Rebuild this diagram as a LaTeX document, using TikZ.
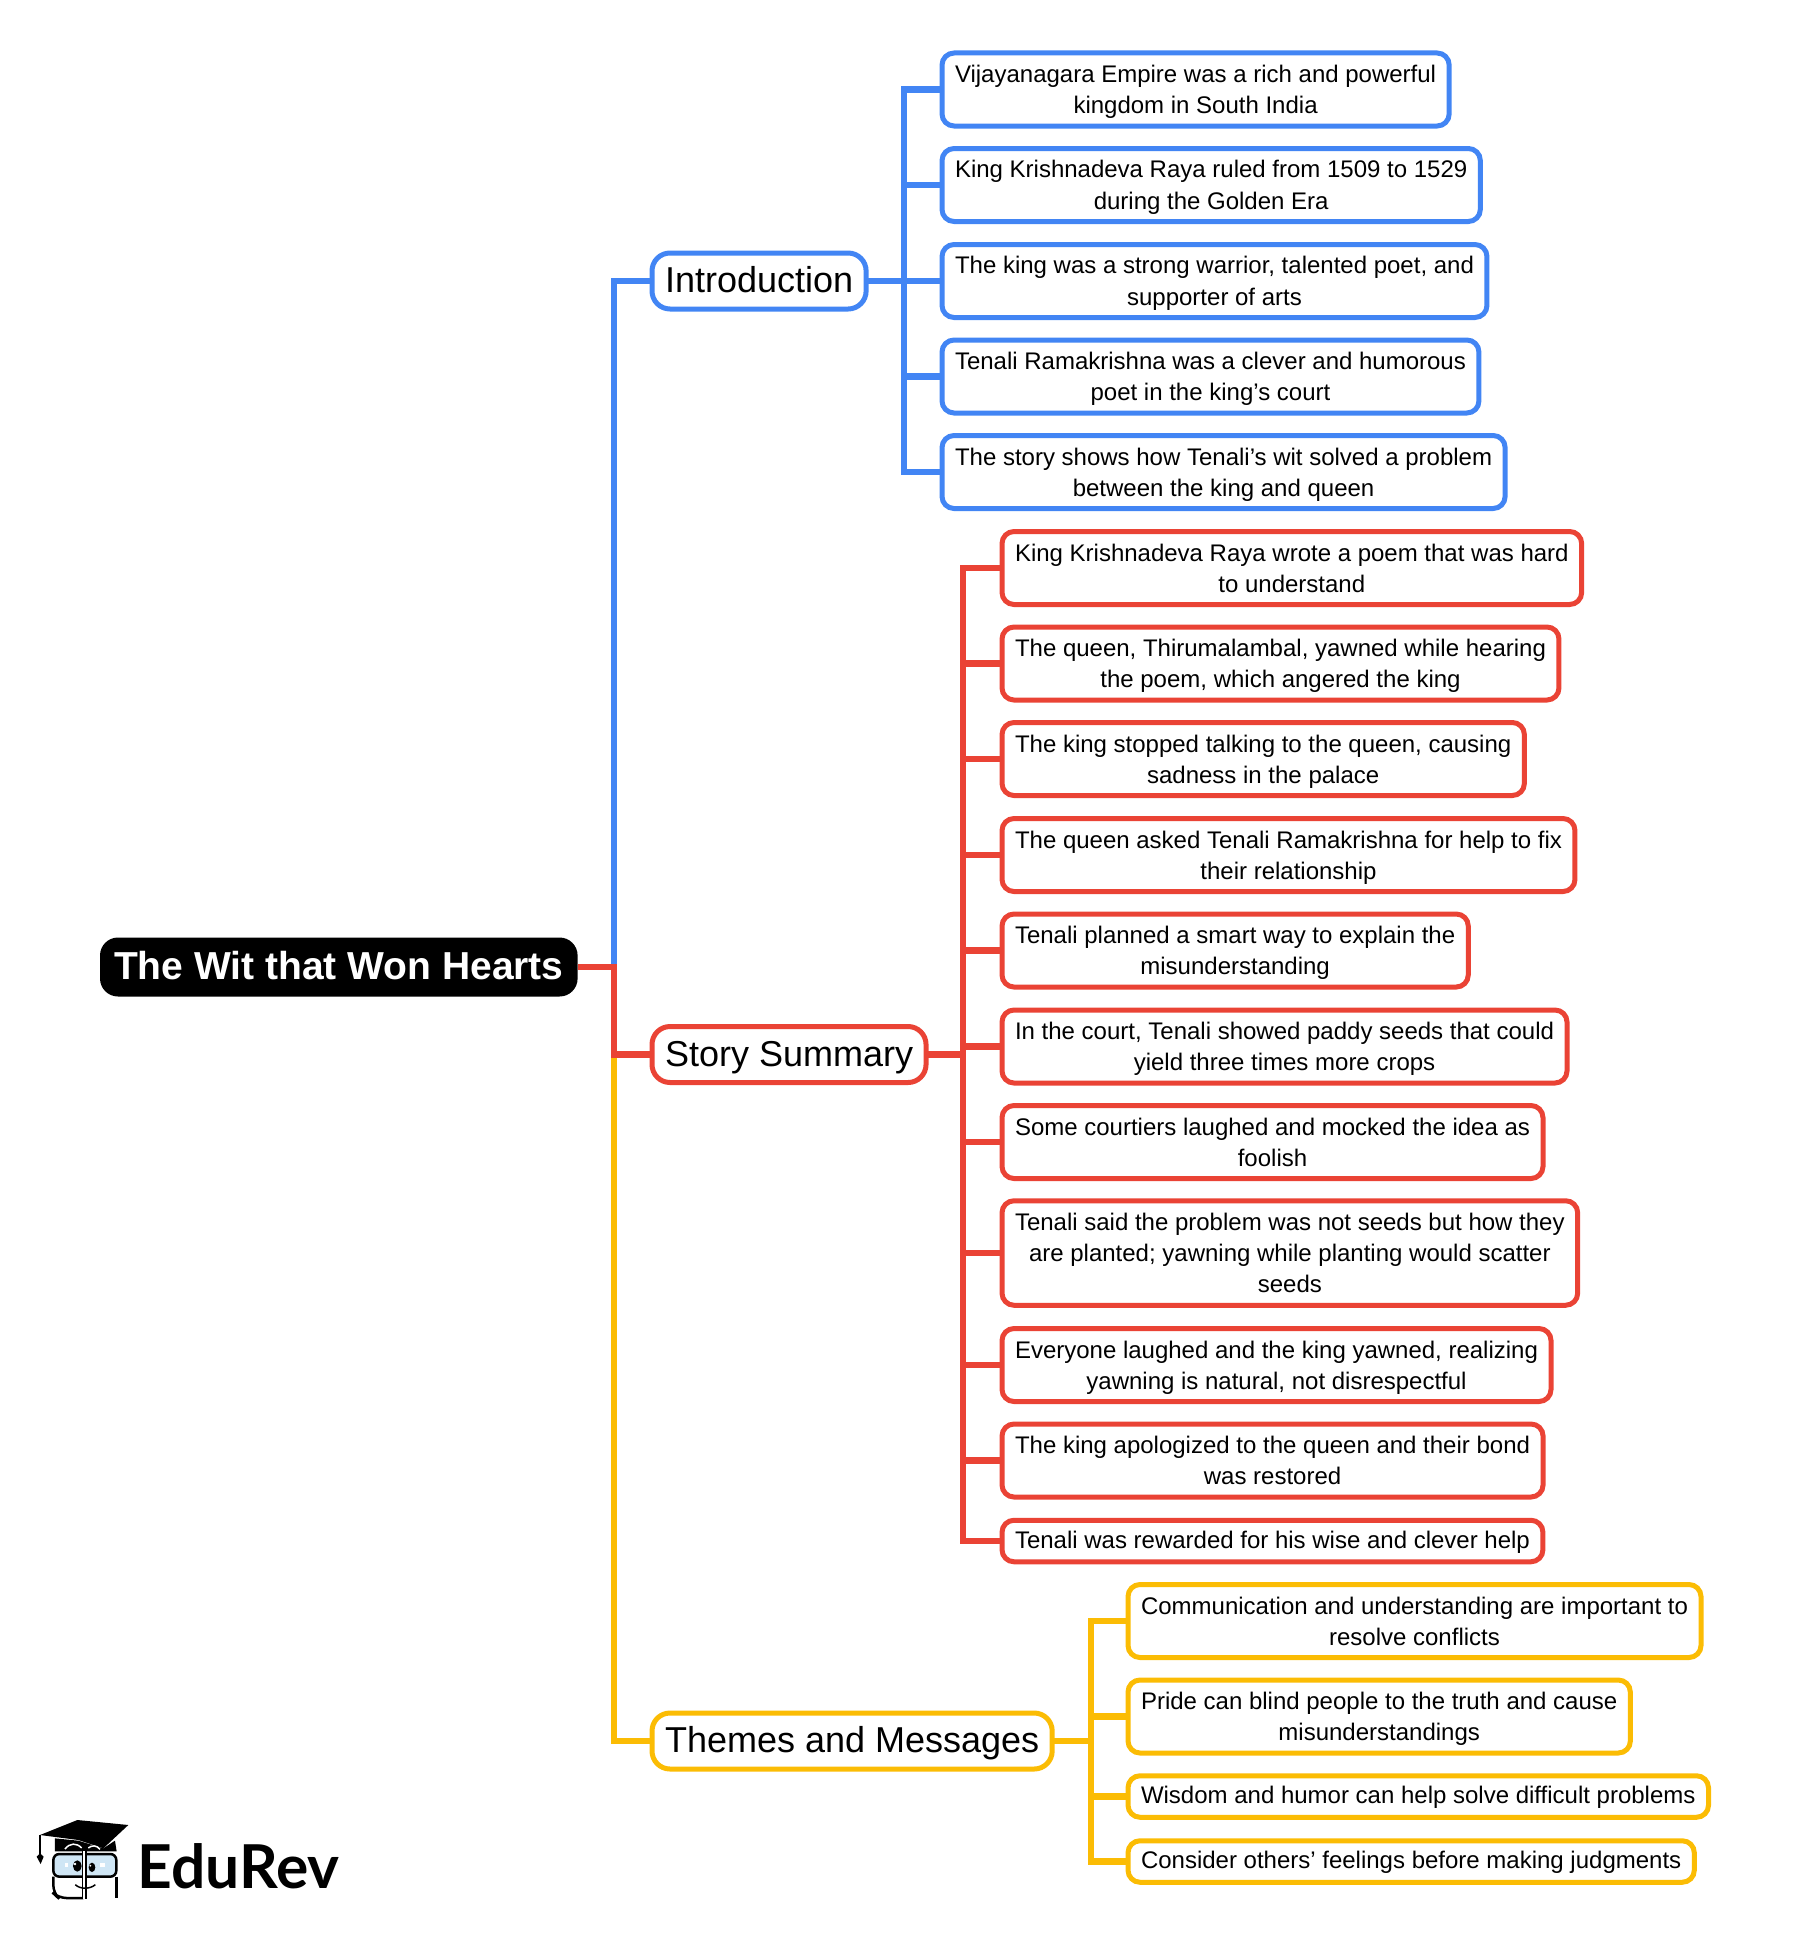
\documentclass[tikz,border=0pt]{standalone}
\usepackage{fontspec}
\setmainfont{Liberation Sans}
\newfontfamily\logofont{Lato}
\definecolor{introblue}{HTML}{4285F4}
\definecolor{storyred}{HTML}{EA4335}
\definecolor{themeyellow}{HTML}{FBBC04}
\definecolor{glasses}{HTML}{CFE6F5}
\begin{document}
\begin{tikzpicture}[x=1pt,y=-1pt]

% definitions
\tikzstyle{leaf} = [rectangle, rounded corners=12pt, anchor=west, align=center, line width=5pt, inner xsep=13pt, inner ysep=0pt, outer sep=0pt, minimum height=73pt, text depth=0.2pt, fill=white, font=\fontsize{24}{31.2}\selectfont]

\tikzstyle{branch} = [rectangle, rounded corners=18pt, anchor=west, line width=5pt, inner xsep=13pt, inner ysep=0pt, outer sep=0pt, minimum height=56pt, text height=23.6pt, text depth=0pt, fill=white, font=\fontsize{36}{40}\selectfont]

\tikzstyle{title} = [rectangle, rounded corners=18pt, anchor=west, fill=black, text=white, inner xsep=14pt, inner ysep=0pt, outer sep=0pt, minimum height=59pt, text height=25.6pt, text depth=0pt, font=\fontsize{39}{44}\selectfont\bfseries]

\tikzstyle{short} = [minimum height=41.5pt, text height=20pt, text depth=5.2pt]
\tikzstyle{tall} = [minimum height=104.5pt]

\tikzstyle{blueline} = [draw=introblue, line width=6.5pt]
\tikzstyle{redline} = [draw=storyred, line width=6.5pt]
\tikzstyle{yellowline} = [draw=themeyellow, line width=6.5pt]

\useasboundingbox (0,0) rectangle (1812,1935);

% the graph
\node (root) [title] at (100,967) {The Wit that Won Hearts};

\node (intro) [branch, draw=introblue] at (652,281) {Introduction};
\node (story) [branch, draw=storyred] at (652,1054.5) {Story Summary};
\node (themes) [branch, draw=themeyellow] at (652,1741) {Themes and Messages};

\node (i1) [leaf, draw=introblue] at (942,89.5) {Vijayanagara Empire was a rich and powerful\\kingdom in South India};
\node (i2) [leaf, draw=introblue] at (942,185) {King Krishnadeva Raya ruled from 1509 to 1529\\during the Golden Era};
\node (i3) [leaf, draw=introblue] at (942,281) {The king was a strong warrior, talented poet, and\\supporter of arts};
\node (i4) [leaf, draw=introblue] at (942,376.5) {Tenali Ramakrishna was a clever and humorous\\poet in the king’s court};
\node (i5) [leaf, draw=introblue] at (942,472) {The story shows how Tenali’s wit solved a problem\\between the king and queen};

\node (s1) [leaf, draw=storyred] at (1002,568) {King Krishnadeva Raya wrote a poem that was hard\\to understand};
\node (s2) [leaf, draw=storyred] at (1002,663.5) {The queen, Thirumalambal, yawned while hearing\\the poem, which angered the king};
\node (s3) [leaf, draw=storyred] at (1002,759) {The king stopped talking to the queen, causing\\sadness in the palace};
\node (s4) [leaf, draw=storyred] at (1002,855) {The queen asked Tenali Ramakrishna for help to fix\\their relationship};
\node (s5) [leaf, draw=storyred] at (1002,950.5) {Tenali planned a smart way to explain the\\misunderstanding};
\node (s6) [leaf, draw=storyred] at (1002,1046.5) {In the court, Tenali showed paddy seeds that could\\yield three times more crops};
\node (s7) [leaf, draw=storyred] at (1002,1142) {Some courtiers laughed and mocked the idea as\\foolish};
\node (s8) [leaf, tall, draw=storyred] at (1002,1253) {Tenali said the problem was not seeds but how they\\are planted; yawning while planting would scatter\\seeds};
\node (s9) [leaf, draw=storyred] at (1002,1365) {Everyone laughed and the king yawned, realizing\\yawning is natural, not disrespectful};
\node (s10) [leaf, draw=storyred] at (1002,1460.5) {The king apologized to the queen and their bond\\was restored};
\node (s11) [leaf, short, draw=storyred] at (1002,1541) {Tenali was rewarded for his wise and clever help};

\node (t1) [leaf, draw=themeyellow] at (1128,1621) {Communication and understanding are important to\\resolve conflicts};
\node (t2) [leaf, draw=themeyellow] at (1128,1716.5) {Pride can blind people to the truth and cause\\misunderstandings};
\node (t3) [leaf, short, draw=themeyellow] at (1128,1796.5) {Wisdom and humor can help solve difficult problems};
\node (t4) [leaf, short, draw=themeyellow] at (1128,1861.5) {Consider others’ feelings before making judgments};

\coordinate (bus0) at (614,967);
\coordinate (bus1) at (904,281);
\coordinate (bus2) at (963,1054.5);
\coordinate (bus3) at (1091,1741);

\draw [blueline] (root.east) -- (bus0) |- (intro.west);
\draw [yellowline] (root.east) -- (bus0) |- (themes.west);
\draw [redline] (root.east) -- (bus0) |- (story.west);

\draw [blueline] (intro.east) -- (bus1);
\draw [blueline] (bus1) |- (i1.west);
\draw [blueline] (bus1) |- (i2.west);
\draw [blueline] (bus1) |- (i3.west);
\draw [blueline] (bus1) |- (i4.west);
\draw [blueline] (bus1) |- (i5.west);

\draw [redline] (story.east) -- (bus2);
\draw [redline] (bus2) |- (s1.west);
\draw [redline] (bus2) |- (s2.west);
\draw [redline] (bus2) |- (s3.west);
\draw [redline] (bus2) |- (s4.west);
\draw [redline] (bus2) |- (s5.west);
\draw [redline] (bus2) |- (s6.west);
\draw [redline] (bus2) |- (s7.west);
\draw [redline] (bus2) |- (s8.west);
\draw [redline] (bus2) |- (s9.west);
\draw [redline] (bus2) |- (s10.west);
\draw [redline] (bus2) |- (s11.west);

\draw [yellowline] (themes.east) -- (bus3);
\draw [yellowline] (bus3) |- (t1.west);
\draw [yellowline] (bus3) |- (t2.west);
\draw [yellowline] (bus3) |- (t3.west);
\draw [yellowline] (bus3) |- (t4.west);

% the logo
\node (logotext) [anchor=base west, inner sep=0pt, font=\fontsize{60.5}{62}\logofont\bfseries] at (137.5,1888) {EduRev};

\begin{scope}[shift={(0,1780)}, x=0.3333pt, y=-0.3333pt]
\fill [black] (120,165) -- (232,120) -- (385,135) -- (310,205) -- (235,180) -- cycle;
\fill [black] (165,175) -- (165,214) -- (350,214) -- (345,182) -- (310,205) -- (235,182) -- cycle;
\draw [white, line width=1.5pt] (195,207) .. controls (210,188) and (230,188) .. (245,204);
\draw [white, line width=1.5pt] (265,204) .. controls (275,195) and (290,195) .. (300,208);
\draw [black, line width=1.5pt] (120,165) -- (120,225);
\fill [black] (110,230) -- (120,220) -- (131,230) -- (122,252) -- cycle;
\draw [black, line width=2.5pt, fill=glasses, rounded corners=6pt] (160,222) rectangle (349,290);
\draw [black, line width=2.5pt, rounded corners=8pt] (250,354) -- (175,354) -- (160,340) -- (160,290);
\draw [black, line width=2.5pt, rounded corners=8pt] (349,290) -- (349,354);
\draw [white, line width=3pt] (253,214) -- (253,358);
\draw [black, line width=1.5pt] (248,214) -- (248,355);
\draw [black, line width=1.5pt] (258,214) -- (258,358);
\fill [black] (232,258) ellipse [x radius=13, y radius=17];
\fill [black] (276,262) ellipse [x radius=10, y radius=14];
\fill [white] (225,252) circle [radius=4];
\fill [white] (271,257) circle [radius=3];
\fill [white] (195,248) rectangle (205,262);
\fill [white] (301,248) rectangle (315,262);
\draw [black, line width=1.5pt] (226,314) .. controls (240,328) and (270,328) .. (286,314);
\end{scope}

\end{tikzpicture}
\end{document}
